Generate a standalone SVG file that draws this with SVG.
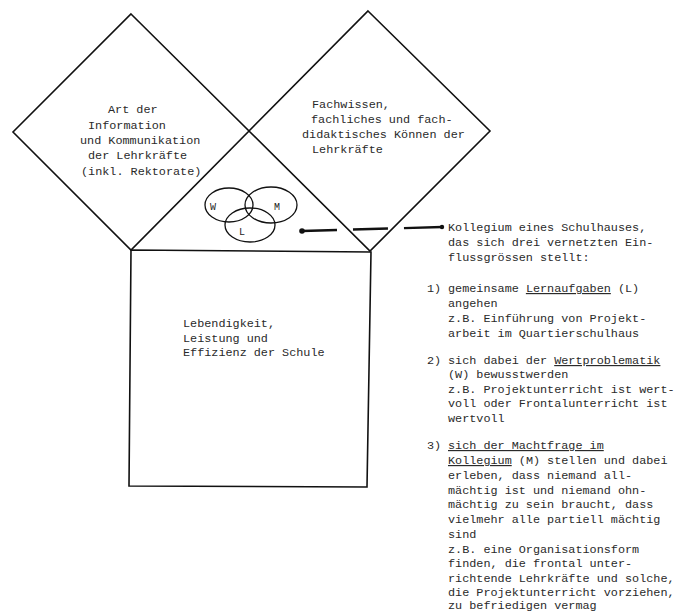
<svg xmlns="http://www.w3.org/2000/svg" width="681" height="613" viewBox="0 0 681 613">
<style>
.shape{fill:none;stroke:#111;stroke-width:1.6;stroke-linejoin:miter}
.t{font-family:"Liberation Mono","DejaVu Sans Mono",monospace;font-size:11.8px;fill:#2a2a2a}
.u{text-decoration:underline}
.venn{fill:none;stroke:#111;stroke-width:1.3}
.vl{font-family:"Liberation Mono",monospace;font-size:10px;fill:#222}
.conn{fill:none;stroke:#111;stroke-width:2.4;stroke-dasharray:35 16 35 16 38}
</style>
<rect width="681" height="613" fill="#fff"/>
<g id="diamond-left">
<polygon class="shape" points="131,14 249,131 131,250 13,132"/>
<text class="t" x="108" y="113">Art der</text>
<text class="t" x="88" y="129">Information</text>
<text class="t" x="80" y="144">und Kommunikation</text>
<text class="t" x="88" y="159">der Lehrkräfte</text>
<text class="t" x="81" y="175">(inkl. Rektorate)</text>
</g>
<g id="diamond-right">
<polygon class="shape" points="368,11 490,131 370,251 249,131"/>
<text class="t" x="312" y="108">Fachwissen,</text>
<text class="t" x="311" y="123">fachliches und fach-</text>
<text class="t" x="302" y="138">didaktisches Können der</text>
<text class="t" x="312" y="153">Lehrkräfte</text>
</g>
<g id="square">
<polygon class="shape" points="131,250 371,252 367,487 129,486"/>
<text class="t" x="183" y="327">Lebendigkeit,</text>
<text class="t" x="183" y="342">Leistung und</text>
<text class="t" x="183" y="356">Effizienz der Schule</text>
</g>
<g id="venn">
<ellipse class="venn" cx="229" cy="205" rx="24" ry="17"/>
<ellipse class="venn" cx="271" cy="205" rx="26" ry="18"/>
<ellipse class="venn" cx="250" cy="225" rx="25" ry="17"/>
<text class="vl" x="210" y="210">W</text>
<text class="vl" x="274" y="210">M</text>
<text class="vl" x="239" y="235">L</text>
</g>
<g id="connectors">
<path class="conn" d="M302,231 L442,227"/>
<circle cx="302" cy="231" r="2.8" fill="#111"/>
<circle cx="442" cy="227" r="2.2" fill="#111"/>
</g>
<g id="note">
<text class="t" x="448" y="231">Kollegium eines Schulhauses,</text>
<text class="t" x="448" y="246">das sich drei vernetzten Ein-</text>
<text class="t" x="448" y="261">flussgrössen stellt:</text>
<text class="t" x="427" y="292">1)</text>
<text class="t" x="448" y="292">gemeinsame <tspan class="u">Lernaufgaben</tspan> (L)</text>
<text class="t" x="448" y="307">angehen</text>
<text class="t" x="448" y="322">z.B. Einführung von Projekt-</text>
<text class="t" x="448" y="337">arbeit im Quartierschulhaus</text>
<text class="t" x="427" y="364">2)</text>
<text class="t" x="448" y="364">sich dabei der <tspan class="u">Wertproblematik</tspan></text>
<text class="t" x="448" y="378">(W) bewusstwerden</text>
<text class="t" x="448" y="393">z.B. Projektunterricht ist wert-</text>
<text class="t" x="448" y="407">voll oder Frontalunterricht ist</text>
<text class="t" x="448" y="422">wertvoll</text>
<text class="t" x="427" y="449">3)</text>
<text class="t" x="448" y="449"><tspan class="u">sich der Machtfrage im</tspan></text>
<text class="t" x="448" y="464"><tspan class="u">Kollegium</tspan> (M) stellen und dabei</text>
<text class="t" x="448" y="479">erleben, dass niemand all-</text>
<text class="t" x="448" y="494">mächtig ist und niemand ohn-</text>
<text class="t" x="448" y="508">mächtig zu sein braucht, dass</text>
<text class="t" x="448" y="523">vielmehr alle partiell mächtig</text>
<text class="t" x="448" y="538">sind</text>
<text class="t" x="448" y="553">z.B. eine Organisationsform</text>
<text class="t" x="448" y="567">finden, die frontal unter-</text>
<text class="t" x="448" y="582">richtende Lehrkräfte und solche,</text>
<text class="t" x="448" y="596">die Projektunterricht vorziehen,</text>
<text class="t" x="448" y="609">zu befriedigen vermag</text>
</g>
</svg>
